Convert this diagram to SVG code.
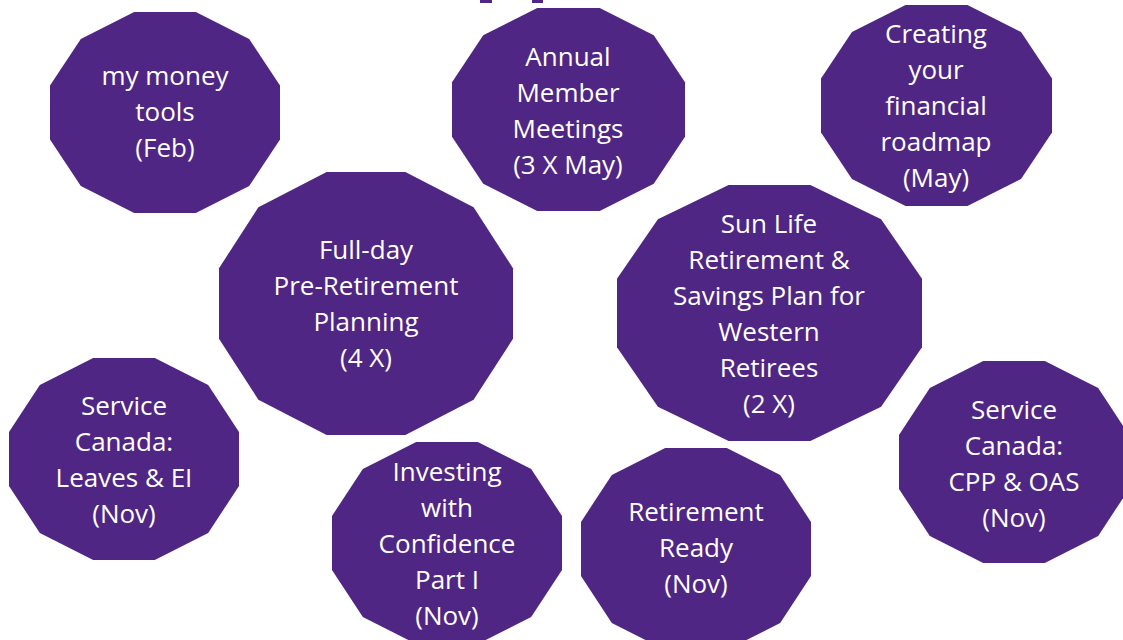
<svg xmlns="http://www.w3.org/2000/svg" xmlns:xlink="http://www.w3.org/1999/xlink" width="1123" height="640" viewBox="0 0 1123 640">
  <style>
    .shape { fill: #4F2683; }
    .label { fill: #FFFFFF; font-family: "Open Sans", "Liberation Sans", sans-serif; font-size: 26px; text-anchor: middle; }
  </style>
  <defs>
    <!-- unit dodecagon, scaled per node to half-width / half-height -->
    <polygon id="dodeca" points="0.268,-1 0.732,-0.732 1,-0.268 1,0.268 0.732,0.732 0.268,1 -0.268,1 -0.732,0.732 -1,0.268 -1,-0.268 -0.732,-0.732 -0.268,-1"/>
  </defs>
  <rect width="1123" height="640" fill="#FFFFFF"/>

  <!-- descenders of the heading above the frame -->
  <rect class="shape" x="480" y="0" width="12" height="3"/>
  <rect class="shape" x="532" y="0" width="11" height="3"/>

  <g id="connectors"></g>

  <g id="node-my-money-tools">
    <use xlink:href="#dodeca" class="shape" transform="translate(165,112.5) scale(115,100.5)"/>
    <text class="label"><tspan x="165" y="85">my money</tspan><tspan x="165" y="121">tools</tspan><tspan x="165" y="157">(Feb)</tspan></text>
  </g>

  <g id="node-annual-member-meetings">
    <use xlink:href="#dodeca" class="shape" transform="translate(568.5,109.5) scale(116.5,101.5)"/>
    <text class="label"><tspan x="568" y="66">Annual</tspan><tspan x="568" y="102">Member</tspan><tspan x="568" y="138">Meetings</tspan><tspan x="568" y="174">(3 X May)</tspan></text>
  </g>

  <g id="node-financial-roadmap">
    <use xlink:href="#dodeca" class="shape" transform="translate(936.5,105.5) scale(115.5,100.5)"/>
    <text class="label"><tspan x="936" y="43">Creating</tspan><tspan x="936" y="79">your</tspan><tspan x="936" y="115">financial</tspan><tspan x="936" y="151">roadmap</tspan><tspan x="936" y="187">(May)</tspan></text>
  </g>

  <g id="node-pre-retirement">
    <use xlink:href="#dodeca" class="shape" transform="translate(366,303.5) scale(147,131.5)"/>
    <text class="label"><tspan x="366" y="259">Full-day</tspan><tspan x="366" y="295">Pre-Retirement</tspan><tspan x="366" y="331">Planning</tspan><tspan x="366" y="367">(4 X)</tspan></text>
  </g>

  <g id="node-sun-life">
    <use xlink:href="#dodeca" class="shape" transform="translate(769.5,313) scale(152.5,128)"/>
    <text class="label"><tspan x="769" y="233">Sun Life</tspan><tspan x="769" y="269">Retirement &amp;</tspan><tspan x="769" y="305">Savings Plan for</tspan><tspan x="769" y="341">Western</tspan><tspan x="769" y="377">Retirees</tspan><tspan x="769" y="413">(2 X)</tspan></text>
  </g>

  <g id="node-leaves-ei">
    <use xlink:href="#dodeca" class="shape" transform="translate(124,459) scale(115,101)"/>
    <text class="label"><tspan x="124" y="415">Service</tspan><tspan x="124" y="451">Canada:</tspan><tspan x="124" y="487">Leaves &amp; EI</tspan><tspan x="124" y="523">(Nov)</tspan></text>
  </g>

  <g id="node-investing">
    <use xlink:href="#dodeca" class="shape" transform="translate(447,543) scale(115,101)"/>
    <text class="label"><tspan x="447" y="481">Investing</tspan><tspan x="447" y="517">with</tspan><tspan x="447" y="553">Confidence</tspan><tspan x="447" y="589">Part I</tspan><tspan x="447" y="625">(Nov)</tspan></text>
  </g>

  <g id="node-retirement-ready">
    <use xlink:href="#dodeca" class="shape" transform="translate(696,549) scale(115,101)"/>
    <text class="label"><tspan x="696" y="521">Retirement</tspan><tspan x="696" y="557">Ready</tspan><tspan x="696" y="593">(Nov)</tspan></text>
  </g>

  <g id="node-cpp-oas">
    <use xlink:href="#dodeca" class="shape" transform="translate(1014,462) scale(115,101)"/>
    <text class="label"><tspan x="1014" y="419">Service</tspan><tspan x="1014" y="455">Canada:</tspan><tspan x="1014" y="491">CPP &amp; OAS</tspan><tspan x="1014" y="527">(Nov)</tspan></text>
  </g>
</svg>
